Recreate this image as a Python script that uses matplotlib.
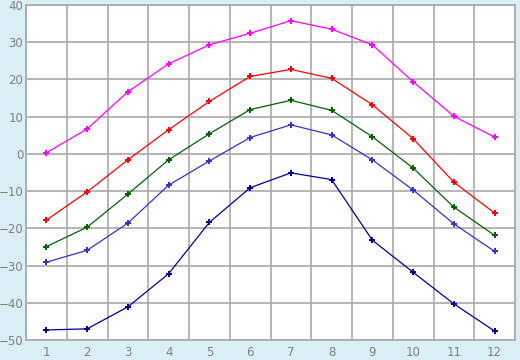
'''
Monthly temperature curves, five series, recreated with matplotlib.
'''
import numpy as np
import matplotlib.pyplot as plt

months = np.arange(1, 13)

# Series values, top curve first
s_magenta = [0.3, 6.7, 16.7, 24.2, 29.3, 32.4, 35.8, 33.5, 29.3, 19.4, 10.1, 4.5]
s_red = [-17.8, -10.2, -1.6, 6.5, 14.1, 20.8, 22.7, 20.3, 13.2, 4.1, -7.6, -15.9]
s_green = [-24.9, -19.7, -10.8, -1.6, 5.4, 11.9, 14.4, 11.7, 4.6, -3.8, -14.3, -21.9]
s_blue = [-29.1, -25.9, -18.6, -8.4, -1.9, 4.4, 7.8, 5.1, -1.6, -9.7, -18.8, -26.2]
s_navy = [-47.3, -47.0, -41.1, -32.2, -18.4, -9.1, -5.1, -6.9, -23.2, -31.8, -40.3, -47.6]

series = [s_magenta, s_red, s_green, s_blue, s_navy]
colors = ["#ff00ff", "#ff0000", "#006400", "#3333cc", "#000099"]
y_ticks = np.arange(-50, 41, 10)

fig = plt.figure(figsize=(5.2, 3.6), dpi=100, facecolor="#daeef5")
ax = fig.add_axes([26 / 520, 20 / 360, 489 / 520, 335 / 360])
ax.set_facecolor("white")

# Plot each series with small markers
for values, color in zip(series, colors):
  ax.plot(months, values, color=color, linewidth=0.9, marker="P",
          markersize=5, markeredgewidth=0, zorder=3)

ax.set_xlim(0.5, 12.5)
ax.set_ylim(-50, 40)
ax.set_xticks(months)
ax.set_yticks(y_ticks)
ax.set_yticklabels([str(v).replace("-", "\u2212") for v in y_ticks])

# Grid lines sit between the months, and on every y tick
ax.set_xticks(np.arange(0.5, 13, 1), minor=True)
ax.grid(which="minor", axis="x", color="#a9a9a9", linewidth=1.2)
ax.grid(which="major", axis="y", color="#a9a9a9", linewidth=1.2)
ax.tick_params(which="both", length=0, labelsize=8.5, labelcolor="#808080")
ax.tick_params(axis="y", pad=2)
ax.tick_params(axis="x", pad=4)
for spine in ax.spines.values():
  spine.set_color("#a9a9a9")
  spine.set_linewidth(1.2)

fig.savefig("out.png", dpi=100, facecolor=fig.get_facecolor())
